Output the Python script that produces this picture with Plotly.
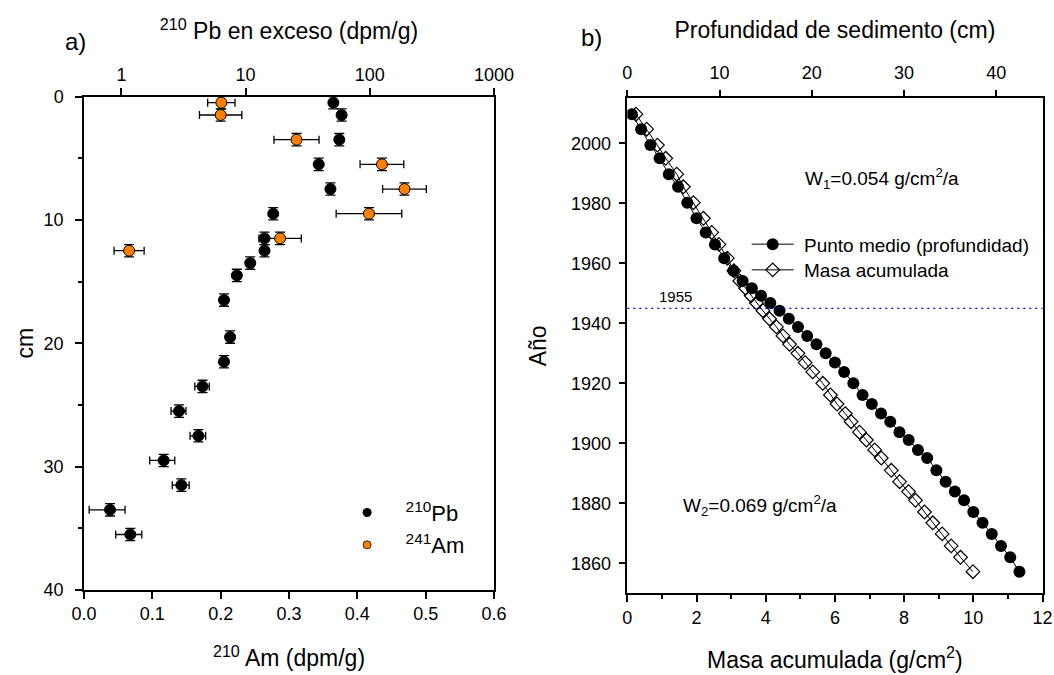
import math
import plotly.graph_objects as go

W, H = 1054, 675
FONT = "Liberation Sans, Arial, sans-serif"

# ---------------- data: panel a ----------------
pb_depth = [0.5, 1.5, 3.5, 5.5, 7.5, 9.5, 11.5, 12.5, 13.5, 14.5,
            16.5, 19.5, 21.5, 23.5, 25.5, 27.5, 29.5, 31.5, 33.5, 35.5]
pb_excess = [50.9, 59.3, 56.8, 38.8, 48.2, 16.7, 14.2, 14.2, 10.9, 8.5,
             6.7, 7.5, 6.7, 4.5, 2.91, 4.17, 2.19, 3.04, 0.81, 1.18]
pb_err = [2.5, 3.0, 2.8, 2.0, 2.4, 0.9, 0.8, 0.8, 0.6, 0.5,
          0.4, 0.45, 0.4, 0.6, 0.4, 0.6, 0.5, 0.47, 0.26, 0.28]

am_depth = [0.5, 1.5, 3.5, 5.5, 7.5, 9.5, 11.5, 12.5]
am_act = [0.201, 0.200, 0.311, 0.436, 0.469, 0.417, 0.287, 0.066]
am_err = [0.020, 0.031, 0.033, 0.032, 0.032, 0.048, 0.031, 0.022]
depth_err = 0.5

# ---------------- data: panel b ----------------
mid_depth = [0.5, 1.5, 2.5, 3.5, 4.5, 5.5, 6.5, 7.5, 8.5, 9.5, 10.5, 11.5, 12.5, 13.5, 14.5,
             15.5, 16.5, 17.5, 18.5, 19.5, 20.5, 21.5, 22.5, 23.5, 24.5, 25.5, 26.5, 27.5, 28.5,
             29.5, 30.5, 31.5, 32.5, 33.5, 34.5, 35.5, 36.5, 37.5, 38.5, 39.5, 40.5, 41.5, 42.5]
year = [2009.7, 2004.7, 1999.4, 1995.0, 1989.7, 1985.5, 1980.2, 1975.0, 1970.3, 1966.3,
        1961.7, 1957.5, 1954.1, 1951.7, 1949.2, 1946.8, 1944.2, 1941.5, 1938.8, 1935.8,
        1933.0, 1930.0, 1926.9, 1923.8, 1920.0, 1916.1, 1913.1, 1909.9, 1907.2, 1903.7,
        1901.1, 1897.8, 1895.1, 1891.0, 1887.2, 1883.9, 1881.0, 1877.1, 1873.5, 1869.8,
        1865.8, 1862.0, 1857.2]
cum_mass = [0.25, 0.56, 0.87, 1.11, 1.43, 1.62, 1.91, 2.20, 2.44, 2.65, 2.89, 3.08, 3.25, 3.42, 3.58,
            3.73, 3.92, 4.11, 4.31, 4.50, 4.69, 4.93, 5.14, 5.36, 5.65, 5.87, 6.06, 6.30, 6.47,
            6.71, 6.91, 7.15, 7.34, 7.63, 7.87, 8.13, 8.33, 8.59, 8.83, 9.10, 9.36, 9.63, 9.99]
ref_year = 1945
ref_label = "1955"

# ---------------- helpers ----------------
def fx(px):
    return px / W

def fy(py):
    return 1 - py / H

AX = dict(showgrid=False, zeroline=False, showline=True, linecolor="black", linewidth=1.5,
          ticks="outside", ticklen=7, tickwidth=1.5, tickcolor="black",
          tickfont=dict(family=FONT, size=18, color="black"),
          title_font=dict(family=FONT, size=23, color="black"), automargin=False)

fig = go.Figure()

# ---- panel a traces ----
fig.add_trace(go.Scatter(
    x=pb_excess, y=pb_depth, xaxis="x", yaxis="y", mode="markers", showlegend=False,
    marker=dict(color="black", size=11, line=dict(color="black", width=1)),
    error_x=dict(type="data", array=pb_err, color="black", thickness=1.3, width=4),
    error_y=dict(type="constant", value=depth_err, color="black", thickness=1.3, width=5)))
fig.add_trace(go.Scatter(
    x=am_act, y=am_depth, xaxis="x2", yaxis="y", mode="markers", showlegend=False,
    marker=dict(color="#ff8000", size=11, line=dict(color="black", width=1)),
    error_x=dict(type="data", array=am_err, color="black", thickness=1.3, width=4),
    error_y=dict(type="constant", value=depth_err, color="black", thickness=1.3, width=5)))
# legend entries panel a
fig.add_trace(go.Scatter(x=[None], y=[None], xaxis="x2", yaxis="y", mode="markers",
                         name="<sup>210</sup>Pb", legend="legend",
                         marker=dict(color="black", size=9)))
fig.add_trace(go.Scatter(x=[None], y=[None], xaxis="x2", yaxis="y", mode="markers",
                         name="<sup>241</sup>Am", legend="legend2",
                         marker=dict(color="#ff8000", size=8, line=dict(color="black", width=0.8))))

# ---- panel b traces ----
fig.add_trace(go.Scatter(
    x=cum_mass, y=year, xaxis="x3", yaxis="y2", mode="lines+markers",
    name="\u00a0Masa acumulada", legend="legend4",
    line=dict(color="black", width=1),
    marker=dict(symbol="diamond-open", size=10.5, color="black", line=dict(color="black", width=1.2))))
fig.add_trace(go.Scatter(
    x=mid_depth, y=year, xaxis="x4", yaxis="y2", mode="lines+markers",
    name="\u00a0Punto medio (profundidad)", legend="legend3",
    line=dict(color="black", width=1),
    marker=dict(symbol="circle", size=12, color="black")))

# ---- axes ----
dom_a_x = [fx(84), fx(494)]
dom_a_y = [fy(590), fy(96.5)]
dom_b_x = [fx(627.3), fx(1042.5)]
dom_b_y = [fy(593.3), fy(98.3)]

fig.update_layout(
    xaxis=dict(AX, type="log", range=[math.log10(0.5), 3], domain=dom_a_x, anchor="y", side="top",
               tickvals=[1, 10, 100, 1000], ticktext=["1", "10", "100", "1000"],
               title=dict(text="<sup>210</sup> Pb en exceso (dpm/g)", standoff=18)),
    xaxis2=dict(AX, range=[0, 0.6], domain=dom_a_x, anchor="y", overlaying="x", side="bottom",
                tickvals=[0, 0.1, 0.2, 0.3, 0.4, 0.5, 0.6], tickformat=".1f",
                title=dict(text="<sup>210</sup> Am (dpm/g)", standoff=27)),
    yaxis=dict(AX, range=[40, 0], domain=dom_a_y, anchor="x", mirror=True,
               tickvals=[0, 10, 20, 30, 40], ticklabelstandoff=8,
               minor=dict(ticks="outside", ticklen=4, tickwidth=1.5, tickcolor="black", dtick=5),
               title=dict(text="cm", standoff=4)),
    xaxis3=dict(AX, range=[0, 12], domain=dom_b_x, anchor="y2", side="bottom",
                tickvals=[0, 2, 4, 6, 8, 10, 12],
                minor=dict(ticks="outside", ticklen=4, tickwidth=1.5, tickcolor="black", dtick=1),
                title=dict(text="Masa acumulada (g/cm<sup>2</sup>)", standoff=25)),
    xaxis4=dict(AX, range=[0, 45], domain=dom_b_x, anchor="y2", overlaying="x3", side="top",
                tickvals=[0, 10, 20, 30, 40], ticklabelstandoff=3,
                title=dict(text="Profundidad de sedimento (cm)", standoff=18)),
    yaxis2=dict(AX, range=[1850, 2015], domain=dom_b_y, anchor="x3", mirror=True,
                tickvals=[1860, 1880, 1900, 1920, 1940, 1960, 1980, 2000], ticklabelstandoff=4,
                title=dict(text="Año", standoff=18)),
)

# reference line
fig.add_shape(type="line", xref="x3 domain", x0=0, x1=1, yref="y2", y0=ref_year, y1=ref_year,
              line=dict(color="#0000ff", width=1.3, dash="2px,4px"))

ann_font = dict(family=FONT, color="black")
fig.add_annotation(xref="x3", yref="y2", x=0.85, y=ref_year, text=ref_label, showarrow=False,
                   xanchor="left", yanchor="bottom", yshift=1, font=dict(ann_font, size=15))
fig.add_annotation(xref="paper", yref="paper", x=fx(803), y=fy(178),
                   text="W<sub>1</sub>=0.054 g/cm<sup>2</sup>/a", showarrow=False,
                   xanchor="left", yanchor="middle", font=dict(ann_font, size=19))
fig.add_annotation(xref="paper", yref="paper", x=fx(681), y=fy(505),
                   text="W<sub>2</sub>=0.069 g/cm<sup>2</sup>/a", showarrow=False,
                   xanchor="left", yanchor="middle", font=dict(ann_font, size=19))
fig.add_annotation(xref="paper", yref="paper", x=fx(75), y=fy(42), text="a)", showarrow=False,
                   xanchor="center", yanchor="middle", font=dict(ann_font, size=24))
fig.add_annotation(xref="paper", yref="paper", x=fx(591), y=fy(37), text="b)", showarrow=False,
                   xanchor="center", yanchor="middle", font=dict(ann_font, size=24))

LEG = dict(bgcolor="rgba(0,0,0,0)", borderwidth=0, xanchor="left", yanchor="middle",
           font=dict(family=FONT, size=22, color="black"))
fig.update_layout(
    legend=dict(LEG, x=fx(367.3 - 38.7), y=fy(512.7), itemwidth=67),
    legend2=dict(LEG, x=fx(367.3 - 38.7), y=fy(545), itemwidth=67),
    legend3=dict(LEG, x=fx(772.7 - 26), y=fy(244.3), itemwidth=42, font=dict(family=FONT, size=19, color="black")),
    legend4=dict(LEG, x=fx(772.7 - 26), y=fy(270), itemwidth=42, font=dict(family=FONT, size=19, color="black")),
    width=W, height=H, margin=dict(l=0, r=0, t=0, b=0),
    paper_bgcolor="white", plot_bgcolor="white",
    font=dict(family=FONT, color="black"),
)

fig.write_html("out.html", config={"displayModeBar": False},
               post_script="document.body.style.margin='0';")
